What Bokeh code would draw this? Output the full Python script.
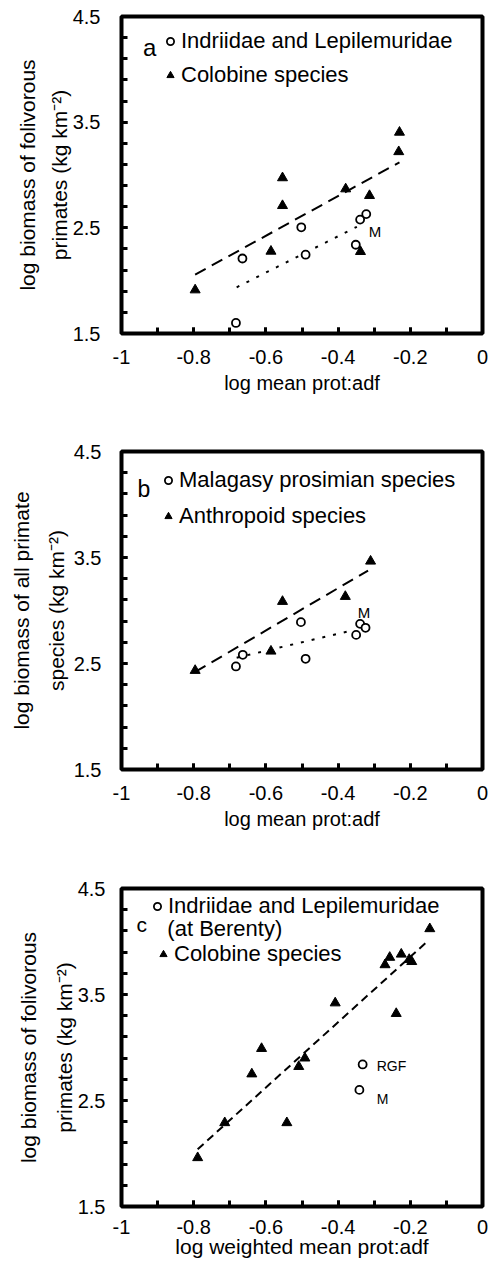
from bokeh.plotting import figure
from bokeh.models import (Range1d, FixedTicker, LinearAxis, Legend, LegendItem,
                          Label, NumeralTickFormatter)
from bokeh.layouts import column
from bokeh.embed import file_html
from bokeh.resources import INLINE

# ---------------- data ----------------
# panel a
a_ind_x = [-0.683, -0.665, -0.502, -0.490, -0.351, -0.339, -0.322]
a_ind_y = [1.60, 2.21, 2.505, 2.246, 2.34, 2.578, 2.63]
a_col_x = [-0.796, -0.586, -0.554, -0.554, -0.379, -0.338, -0.313, -0.232, -0.230]
a_col_y = [1.912, 2.278, 2.973, 2.71, 2.868, 2.275, 2.805, 3.22, 3.404]
a_col_fit_x = [-0.796, -0.230]
a_col_fit_y = [2.057, 3.12]
a_ind_fit_x = [-0.681, -0.348]
a_ind_fit_y = [1.937, 2.51]

# panel b
b_mal_x = [-0.683, -0.664, -0.503, -0.490, -0.350, -0.339, -0.324]
b_mal_y = [2.472, 2.582, 2.89, 2.544, 2.77, 2.874, 2.837]
b_ant_x = [-0.796, -0.586, -0.554, -0.380, -0.310]
b_ant_y = [2.434, 2.616, 3.085, 3.132, 3.465]
b_ant_fit_x = [-0.796, -0.317]
b_ant_fit_y = [2.42, 3.377]
b_mal_fit_x = [-0.681, -0.363]
b_mal_fit_y = [2.555, 2.81]

# panel c
c_ind_x = [-0.332, -0.341]
c_ind_y = [2.84, 2.60]
c_col_x = [-0.789, -0.714, -0.639, -0.612, -0.542, -0.509, -0.492, -0.408,
           -0.270, -0.257, -0.225, -0.203, -0.196, -0.239, -0.146]
c_col_y = [1.96, 2.29, 2.75, 2.99, 2.29, 2.82, 2.90, 3.42,
           3.78, 3.85, 3.88, 3.83, 3.81, 3.32, 4.12]
c_fit_x = [-0.789, -0.153]
c_fit_y = [2.04, 4.0]

# axes
x_major = [-1, -0.8, -0.6, -0.4, -0.2, 0]
x_minor = [-1, -0.9, -0.8, -0.7, -0.6, -0.5, -0.4, -0.3, -0.2, -0.1, 0]
y_major = [1.5, 2.5, 3.5, 4.5]
y_minor = [1.5, 1.7, 1.9, 2.1, 2.3, 2.5, 2.7, 2.9, 3.1, 3.3, 3.5, 3.7, 3.9, 4.1, 4.3, 4.5]

FONT = "Liberation Sans"
W = 495


def make_panel(h, top, bottom, left, right, ylab1, ylab2, xlab,
               ytick_standoff, ylab_standoff, ylab1_standoff,
               xtick_standoff, xlab_standoff, xlab_size="20px"):
    p = figure(width=W, height=h, x_range=Range1d(-1, 0), y_range=Range1d(1.5, 4.5),
               toolbar_location=None, output_backend="svg",
               min_border_left=left, min_border_right=right,
               min_border_top=top, min_border_bottom=bottom)
    p.grid.visible = False
    p.outline_line_color = "black"
    p.outline_line_width = 4
    p.outline_line_alpha = 1.0
    p.background_fill_color = "white"
    p.border_fill_color = "white"

    for ax in (p.xaxis[0], p.yaxis[0]):
        ax.axis_line_color = None
        ax.major_tick_in = 6
        ax.major_tick_out = 0
        ax.minor_tick_in = 6
        ax.minor_tick_out = 0
        ax.major_tick_line_width = 3
        ax.minor_tick_line_width = 3
        ax.major_tick_line_color = "black"
        ax.minor_tick_line_color = "black"
        ax.major_label_text_font = FONT
        ax.major_label_text_font_size = "20px"
        ax.major_label_text_color = "black"
        ax.axis_label_text_font = FONT
        ax.axis_label_text_font_size = "21px"
        ax.axis_label_text_font_style = "normal"
        ax.axis_label_text_color = "black"

    xa = p.xaxis[0]
    xa.ticker = FixedTicker(ticks=x_major, minor_ticks=x_minor)
    xa.formatter = NumeralTickFormatter(format="0.[0]")
    xa.major_label_standoff = xtick_standoff
    xa.axis_label = xlab
    xa.axis_label_standoff = xlab_standoff
    xa.axis_label_text_font_size = xlab_size

    ya = p.yaxis[0]
    ya.ticker = FixedTicker(ticks=y_major, minor_ticks=y_minor)
    ya.major_label_standoff = ytick_standoff
    ya.axis_label = ylab2
    ya.axis_label_standoff = ylab_standoff

    outer = LinearAxis(ticker=FixedTicker(ticks=[]), axis_label=ylab1,
                       axis_line_color=None, major_tick_line_color=None,
                       minor_tick_line_color=None, major_label_standoff=0,
                       axis_label_standoff=ylab1_standoff,
                       axis_label_text_font=FONT, axis_label_text_font_size="21px",
                       axis_label_text_font_style="normal", axis_label_text_color="black")
    p.add_layout(outer, "left")
    return p


def add_legend(p, items, x, y, spacing):
    lg = Legend(items=items, location=(x, y), padding=0, margin=0, spacing=spacing,
                glyph_width=18, glyph_height=18, label_height=18, label_standoff=2,
                label_text_font=FONT, label_text_font_size="22px",
                label_text_color="black",
                background_fill_alpha=0, border_line_color=None)
    p.add_layout(lg, "center")


def label(p, x, y, text, size, align="center"):
    p.add_layout(Label(x=x, y=y, text=text, text_font=FONT, text_font_size=size,
                       text_align=align, text_baseline="middle", text_color="black"))


# ---------------- panel a ----------------
pa = make_panel(399, 16, 66, 120, 13, "log biomass of folivorous", "primates (kg km\u207b\u00b2)",
                "log mean prot:adf", 21, -1, 6, 16, 5)
pa.line(a_col_fit_x, a_col_fit_y, line_color="black", line_width=2, line_dash="12 7")
pa.line(a_ind_fit_x, a_ind_fit_y, line_color="black", line_width=2, line_dash="3 8")
ra1 = pa.scatter(a_ind_x, a_ind_y, marker="circle", size=8, fill_color="white",
                 line_color="black", line_width=1.8)
ra2 = pa.scatter(a_col_x, a_col_y, marker="triangle", size=10, fill_color="black",
                 line_color="black")
add_legend(pa, [LegendItem(label="Indriidae and Lepilemuridae", renderers=[ra1]),
                LegendItem(label="Colobine species", renderers=[ra2])], 40, 245, 8)
label(pa, -0.922, 4.21, "a", "24px")
label(pa, -0.298, 2.47, "M", "15px")

# ---------------- panel b ----------------
pb = make_panel(436, 52, 66, 119, 13, "log biomass of all primate", "species (kg km\u207b\u00b2)",
                "log mean prot:adf", 20, 3, 9, 16, 5)
pb.line(b_ant_fit_x, b_ant_fit_y, line_color="black", line_width=2, line_dash="12 7")
pb.line(b_mal_fit_x, b_mal_fit_y, line_color="black", line_width=2, line_dash="3 8")
rb1 = pb.scatter(b_mal_x, b_mal_y, marker="circle", size=8, fill_color="white",
                 line_color="black", line_width=1.8)
rb2 = pb.scatter(b_ant_x, b_ant_y, marker="triangle", size=10, fill_color="black",
                 line_color="black")
add_legend(pb, [LegendItem(label="Malagasy prosimian species", renderers=[rb1]),
                LegendItem(label="Anthropoid species", renderers=[rb2])], 38, 240, 10)
label(pb, -0.938, 4.15, "b", "23px")
label(pb, -0.328, 2.98, "M", "15px")

# ---------------- panel c ----------------
pc = make_panel(428, 53, 57, 121, 5, "log biomass of folivorous", "primates (kg km\u207b\u00b2)",
                "log weighted mean prot:adf", 16, -1, 10, 13, -2, "21px")
pc.line(c_fit_x, c_fit_y, line_color="black", line_width=2, line_dash="8 5")
rc1 = pc.scatter(c_ind_x, c_ind_y, marker="circle", size=8, fill_color="white",
                 line_color="black", line_width=1.8)
rc2 = pc.scatter(c_col_x, c_col_y, marker="triangle", size=10, fill_color="black",
                 line_color="black")
add_legend(pc, [LegendItem(label="Indriidae and Lepilemuridae", renderers=[rc1])], 27, 287, 0)
add_legend(pc, [LegendItem(label="Colobine species", renderers=[rc2])], 33, 239, 0)
label(pc, -0.873, 4.126, "(at Berenty)", "22px", "left")
label(pc, -0.944, 4.16, "c", "21px")
label(pc, -0.293, 2.83, "RGF", "14px", "left")
label(pc, -0.293, 2.51, "M", "14px", "left")

layout = column(pa, pb, pc)
open("out.html", "w").write(file_html(layout, INLINE))
